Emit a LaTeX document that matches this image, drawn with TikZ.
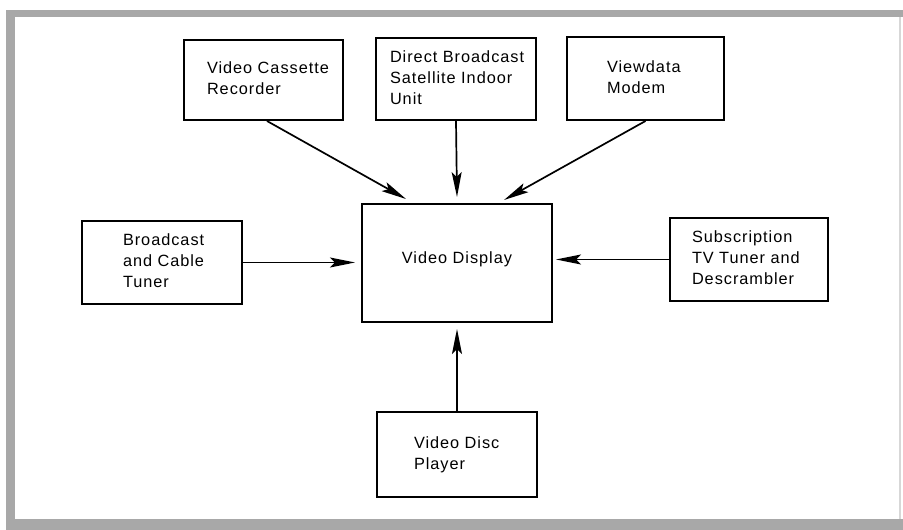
\documentclass[tikz,border=0pt]{standalone}
\usepackage{fontspec}
\setmainfont{Liberation Sans}[LetterSpace=6]
\usetikzlibrary{arrows.meta,calc}
\definecolor{framegray}{RGB}{168,168,168}
\definecolor{edgegray}{RGB}{215,215,215}
\newcommand{\lines}[2]{\hspace*{#1pt}\begin{tabular}[c]{@{}l@{}}#2\end{tabular}}
\tikzset{
  blk/.style={draw=black, line width=2pt, inner xsep=0pt, inner ysep=0pt,
    align=left, font=\fontsize{16.3}{21}\selectfont},
  flow/.style={line width=1.7pt, -{Stealth[length=25pt,width=10pt,inset=5pt]}},
  band/.style={fill=framegray, draw=none}
}
\begin{document}
\begin{tikzpicture}[x=1pt,y=1pt]
\useasboundingbox (0,0) rectangle (903,530);
\fill[white] (0,0) rectangle (903,530);
% frame
\fill[band] (6,513) rectangle (903,520);
\fill[band] (6,0) rectangle (15,520);
\fill[band] (6,0) rectangle (903,11);
\fill[edgegray] (899,11) rectangle (901,513);
% boxes
\node[blk, minimum width=159pt, minimum height=80pt, text width=159pt] (vcr) at (263.5,450) {\lines{23}{Video Cassette\\Recorder}};
\node[blk, minimum width=160pt, minimum height=82pt, text width=160pt] (dbs) at (456,451) {\lines{14}{Direct Broadcast\\Satellite Indoor\\Unit}};
\node[blk, minimum width=157pt, minimum height=83pt, text width=157pt] (vdm) at (645.5,451.5) {\lines{40}{Viewdata\\Modem}};
\node[blk, minimum width=160pt, minimum height=83pt, text width=160pt] (bct) at (162,267.5) {\lines{41}{Broadcast\\and Cable\\Tuner}};
\node[blk, align=center, minimum width=190pt, minimum height=118pt, text depth=11.6pt] (vd) at (457,267) {Video Display};
\node[blk, minimum width=158pt, minimum height=83pt, text width=158pt] (sub) at (749,270.5) {\lines{22}{Subscription\\TV Tuner and\\Descrambler}};
\node[blk, minimum width=160pt, minimum height=85pt, text width=160pt] (vdp) at (457,75.5) {\lines{37}{Video Disc\\Player}};
% arrow tips
\coordinate (tvcr) at ($(vd.north west)+(45,4)$);
\coordinate (tdbs) at ($(vd.north)+(0,6)$);
\coordinate (tvdm) at ($(vd.north east)+(-49,3)$);
% connectors
\draw[flow] ($(vcr.south)+(3.5,0)$) -- (tvcr);
\draw[flow] (dbs.south) -- (tdbs);
\draw[flow] (vdm.south) -- (tvdm);
\draw[flow, shorten >=6pt] (bct.east) -- (bct.east -| vd.west);
\draw[flow, shorten >=3pt] (sub.west) -- (sub.west -| vd.east);
\draw[flow, shorten >=6pt] (vdp.north) -- (vdp.north |- vd.south);
\end{tikzpicture}
\end{document}
